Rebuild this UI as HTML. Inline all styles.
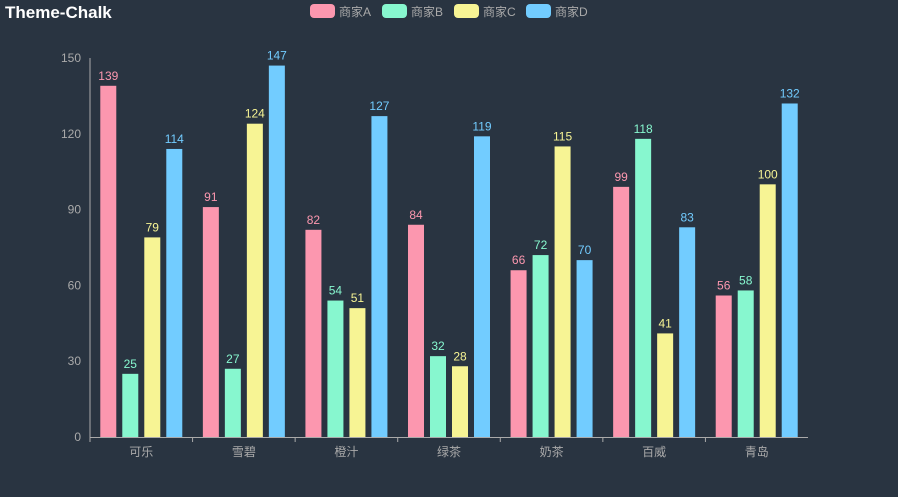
<!DOCTYPE html>
<html><head><meta charset="utf-8"><style>
html,body{margin:0;padding:0;background:#293441;}
svg{display:block;font-family:"Liberation Sans","Noto Sans CJK SC",sans-serif;}
</style></head><body>
<svg id="c" width="898" height="497">
<rect width="898" height="497" fill="#293441"/>
<text x="5" y="18" fill="#ffffff" font-size="17" font-weight="bold">Theme-Chalk</text>
</svg>
<script>
const categories=["可乐","雪碧","橙汁","绿茶","奶茶","百威","青岛"];
const seriesNames=["商家A","商家B","商家C","商家D"];
const seriesA=[139,91,82,84,66,99,56];
const seriesB=[25,27,54,32,72,118,58];
const seriesC=[79,124,51,28,115,41,100];
const seriesD=[114,147,127,119,70,83,132];
const yTicks=[0,30,60,90,120,150];
const colors=["#fc97af","#87f7cf","#f7f494","#72ccff"];
const series=[seriesA,seriesB,seriesC,seriesD];
const svg=document.getElementById('c');
const NS="http://www.w3.org/2000/svg";
const x0=90,x1=808,yTop=58,yBot=437,yMax=150;
const y=v=>yBot-(v/yMax)*(yBot-yTop);
const band=(x1-x0)/categories.length;
const xc=i=>x0+band*(i+0.5);
function mk(t,a){const e=document.createElementNS(NS,t);for(const k in a)e.setAttribute(k,a[k]);svg.appendChild(e);return e;}
yTicks.forEach(t=>{
 const e=mk('text',{x:x0-9,y:y(t)+4,fill:'#aaaaaa','font-size':12,'text-anchor':'end'});
 e.textContent=t;
 
 
});
const ax=mk('line',{x1:x0,y1:yTop,x2:x0,y2:yBot,stroke:'#aaaaaa','stroke-width':1});


const xa=mk('line',{x1:x0,y1:yBot+0.5,x2:x1,y2:yBot+0.5,stroke:'#aaaaaa','stroke-width':1});


categories.forEach((c,i)=>{
 const tk=mk('line',{x1:x0+band*i,y1:yBot,x2:x0+band*i,y2:yBot+5,stroke:'#aaaaaa'});
 
 
 const e=mk('text',{x:xc(i),y:yBot+19,fill:'#aaaaaa','font-size':12,'text-anchor':'middle'});
 e.textContent=c;
 
 
});
const bw=16,step=22;
series.forEach((s,si)=>{
 s.forEach((v,i)=>{
  const bx=xc(i)-41+si*step;
  const r=mk('rect',{x:bx,y:y(v),width:bw,height:yBot-y(v),fill:colors[si]});
  
  
  const t=mk('text',{x:bx+bw/2,y:y(v)-6,fill:colors[si],'font-size':12,'text-anchor':'middle'});
  t.textContent=v;
  
  
 });
});
seriesNames.forEach((n,si)=>{
 const lx=310+si*72;
 const r=mk('rect',{x:lx,y:4,width:25,height:14,rx:4,fill:colors[si]});
 
 
 const t=mk('text',{x:lx+29,y:16,fill:'#aaaaaa','font-size':12});
 t.textContent=n;
 
 
});
</script>
</body></html>
